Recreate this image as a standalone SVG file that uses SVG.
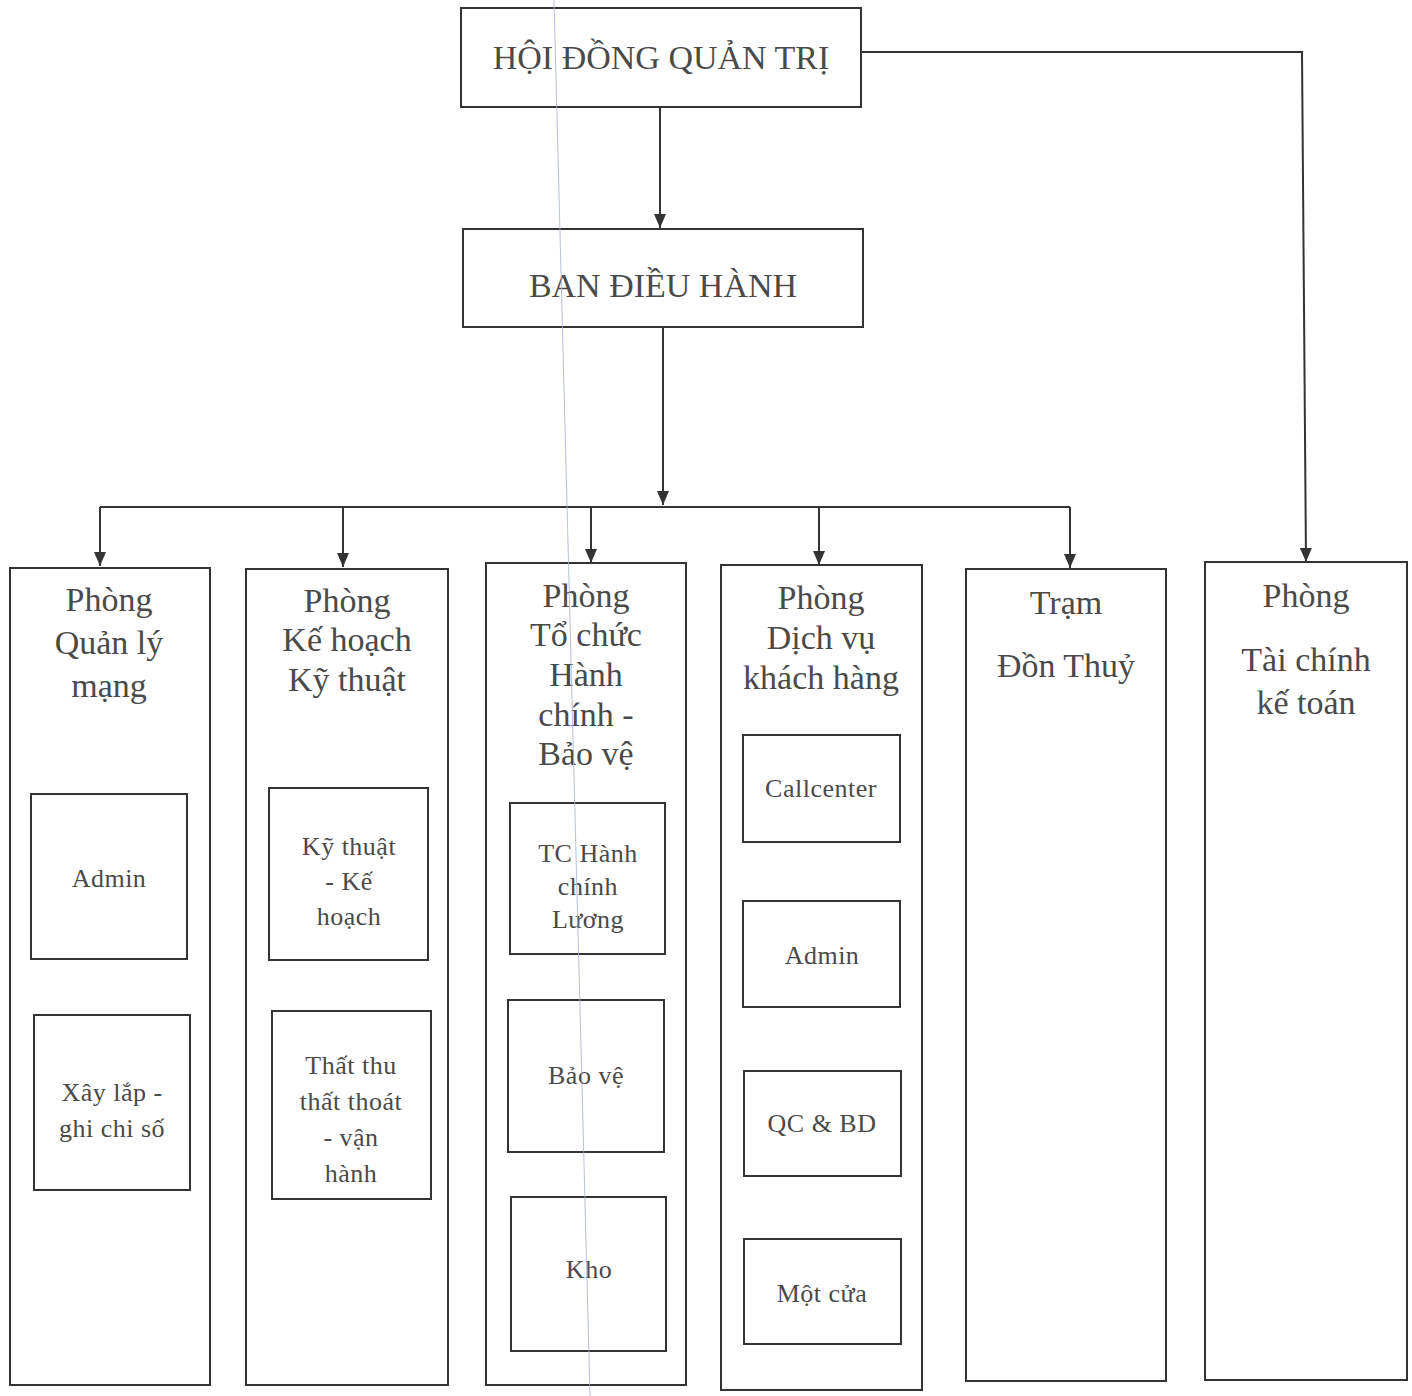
<svg xmlns="http://www.w3.org/2000/svg" width="1412" height="1396" viewBox="0 0 1412 1396">
<style>
.box{fill:#fff;stroke:#333;stroke-width:2}
.t{font-family:"Liberation Serif","Times New Roman",serif;fill:#4a4a4a;text-anchor:middle}
.h{font-size:34px}
.s{font-size:26px;letter-spacing:0.5px}
.c{fill:none;stroke:#333;stroke-width:2}
</style>
<defs>
<marker id="ah" viewBox="0 0 14 12" refX="14" refY="6" markerWidth="14" markerHeight="12" markerUnits="userSpaceOnUse" orient="auto">
<path d="M0,0 L14,6 L0,12 Z" fill="#333"/>
</marker>
</defs>
<rect width="1412" height="1396" fill="#fff"/>
<g id="connectors">
<line class="c" x1="660" y1="107" x2="660" y2="228" marker-end="url(#ah)"/>
<polyline class="c" points="861,52 1302,52 1306,562" marker-end="url(#ah)"/>
<line class="c" x1="663" y1="327" x2="663" y2="505" marker-end="url(#ah)"/>
<line class="c" x1="100" y1="507" x2="1070" y2="507"/>
<line class="c" x1="100" y1="507" x2="100" y2="566" marker-end="url(#ah)"/>
<line class="c" x1="343" y1="507" x2="343" y2="567" marker-end="url(#ah)"/>
<line class="c" x1="591" y1="507" x2="591" y2="563" marker-end="url(#ah)"/>
<line class="c" x1="819" y1="507" x2="819" y2="565" marker-end="url(#ah)"/>
<line class="c" x1="1070" y1="507" x2="1070" y2="568" marker-end="url(#ah)"/>
</g>
<g id="hdqt"><rect class="box" x="461" y="8" width="400" height="99"/><text class="t h" x="661" y="69">HỘI ĐỒNG QUẢN TRỊ</text></g>
<g id="bdh"><rect class="box" x="463" y="229" width="400" height="98"/><text class="t h" x="663" y="297">BAN ĐIỀU HÀNH</text></g>

<g id="p-qlm"><rect class="box" x="10" y="568" width="200" height="817"/>
<text class="t h" x="109" y="611">Phòng</text><text class="t h" x="109" y="654">Quản lý</text><text class="t h" x="109" y="697">mạng</text></g>
<g id="qlm-admin"><rect class="box" x="31" y="794" width="156" height="165"/><text class="t s" x="109" y="887">Admin</text></g>
<g id="qlm-xl"><rect class="box" x="34" y="1015" width="156" height="175"/><text class="t s" x="112" y="1101">Xây lắp -</text><text class="t s" x="112" y="1137">ghi chi số</text></g>

<g id="p-khkt"><rect class="box" x="246" y="569" width="202" height="816"/>
<text class="t h" x="347" y="612">Phòng</text><text class="t h" x="347" y="651">Kế hoạch</text><text class="t h" x="347" y="691">Kỹ thuật</text></g>
<g id="khkt-kt"><rect class="box" x="269" y="788" width="159" height="172"/><text class="t s" x="349" y="855">Kỹ thuật</text><text class="t s" x="349" y="890">- Kế</text><text class="t s" x="349" y="925">hoạch</text></g>
<g id="khkt-tt"><rect class="box" x="272" y="1011" width="159" height="188"/><text class="t s" x="351" y="1074">Thất thu</text><text class="t s" x="351" y="1110">thất thoát</text><text class="t s" x="351" y="1146">- vận</text><text class="t s" x="351" y="1182">hành</text></g>

<g id="p-tchc"><rect class="box" x="486" y="563" width="200" height="822"/>
<text class="t h" x="586" y="607">Phòng</text><text class="t h" x="586" y="646">Tổ chức</text><text class="t h" x="586" y="686">Hành</text><text class="t h" x="586" y="726">chính -</text><text class="t h" x="586" y="765">Bảo vệ</text></g>
<g id="tchc-tc"><rect class="box" x="510" y="803" width="155" height="151"/><text class="t s" x="588" y="862">TC Hành</text><text class="t s" x="588" y="895">chính</text><text class="t s" x="588" y="928">Lương</text></g>
<g id="tchc-bv"><rect class="box" x="508" y="1000" width="156" height="152"/><text class="t s" x="586" y="1084">Bảo vệ</text></g>
<g id="tchc-kho"><rect class="box" x="511" y="1197" width="155" height="154"/><text class="t s" x="589" y="1278">Kho</text></g>

<g id="p-dvkh"><rect class="box" x="721" y="565" width="201" height="825"/>
<text class="t h" x="821" y="609">Phòng</text><text class="t h" x="821" y="649">Dịch vụ</text><text class="t h" x="821" y="689">khách hàng</text></g>
<g id="dvkh-cc"><rect class="box" x="743" y="735" width="157" height="107"/><text class="t s" x="821" y="797">Callcenter</text></g>
<g id="dvkh-admin"><rect class="box" x="743" y="901" width="157" height="106"/><text class="t s" x="822" y="964">Admin</text></g>
<g id="dvkh-qc"><rect class="box" x="744" y="1071" width="157" height="105"/><text class="t s" x="822" y="1132">QC &amp; BD</text></g>
<g id="dvkh-mc"><rect class="box" x="744" y="1239" width="157" height="105"/><text class="t s" x="822" y="1302">Một cửa</text></g>

<g id="tram"><rect class="box" x="966" y="569" width="200" height="812"/>
<text class="t h" x="1066" y="614">Trạm</text><text class="t h" x="1066" y="677">Đồn Thuỷ</text></g>

<g id="p-tckt"><rect class="box" x="1205" y="562" width="202" height="818"/>
<text class="t h" x="1306" y="607">Phòng</text><text class="t h" x="1306" y="671">Tài chính</text><text class="t h" x="1306" y="714">kế toán</text></g>

<line x1="554" y1="0" x2="590" y2="1396" stroke="#a9b3d3" stroke-width="1" opacity="0.8"/>
</svg>
